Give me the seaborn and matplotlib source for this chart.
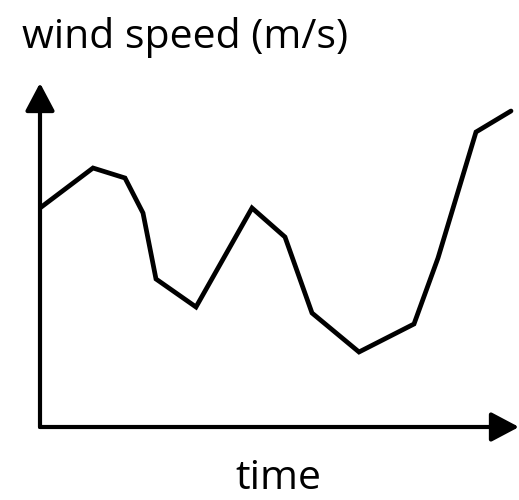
import matplotlib
matplotlib.use("Agg")
import matplotlib.pyplot as plt
import seaborn as sns
import pandas as pd

# data (time, wind speed in arbitrary pixel-like units)
time = [0, 53, 85, 103, 116, 156, 212, 245, 272, 319, 374, 398, 436, 471]
speed = [219, 259, 249, 214, 148, 120, 219, 190, 114, 75, 103, 169, 295, 316]
y_label = "wind speed (m/s)"
x_label = "time"

df = pd.DataFrame({"time": time, "speed": speed})

sns.set_theme(style="white")
plt.rcParams["font.family"] = ["Open Sans", "DejaVu Sans"]

W, H = 519, 500
fig = plt.figure(figsize=(W / 100, H / 100), dpi=100)
x0, x1, y0, y1 = 40, 519, 427, 83
ax = fig.add_axes([x0 / W, 1 - y0 / H, (x1 - x0) / W, (y0 - y1) / H])
ax.set_xlim(0, x1 - x0)
ax.set_ylim(0, y0 - y1)

sns.lineplot(data=df, x="time", y="speed", ax=ax, color="black", lw=3.4,
             solid_joinstyle="miter", estimator=None, sort=False)

for s in ax.spines.values():
    s.set_visible(False)
ax.set_xticks([])
ax.set_yticks([])
ax.set_xlabel("")
ax.set_ylabel("")
ax.patch.set_alpha(0)

style = "-|>,head_length=17,head_width=9"
ax.annotate("", xy=(0, 1), xytext=(0, 0), xycoords="axes fraction",
            arrowprops=dict(arrowstyle=style, lw=3, color="black",
                            shrinkA=0, shrinkB=0, mutation_scale=1), annotation_clip=False)
ax.annotate("", xy=(1, 0), xytext=(0, 0), xycoords="axes fraction",
            arrowprops=dict(arrowstyle=style, lw=3, color="black",
                            shrinkA=0, shrinkB=0, mutation_scale=1), annotation_clip=False)

fig.text(22 / W, 1 - 48 / H, y_label, fontsize=29.5, ha="left", va="baseline", color="black")
fig.text(278 / W, 1 - 499 / H, x_label, fontsize=29.5, ha="center", va="bottom", color="black")

fig.savefig("out.png", dpi=100)
